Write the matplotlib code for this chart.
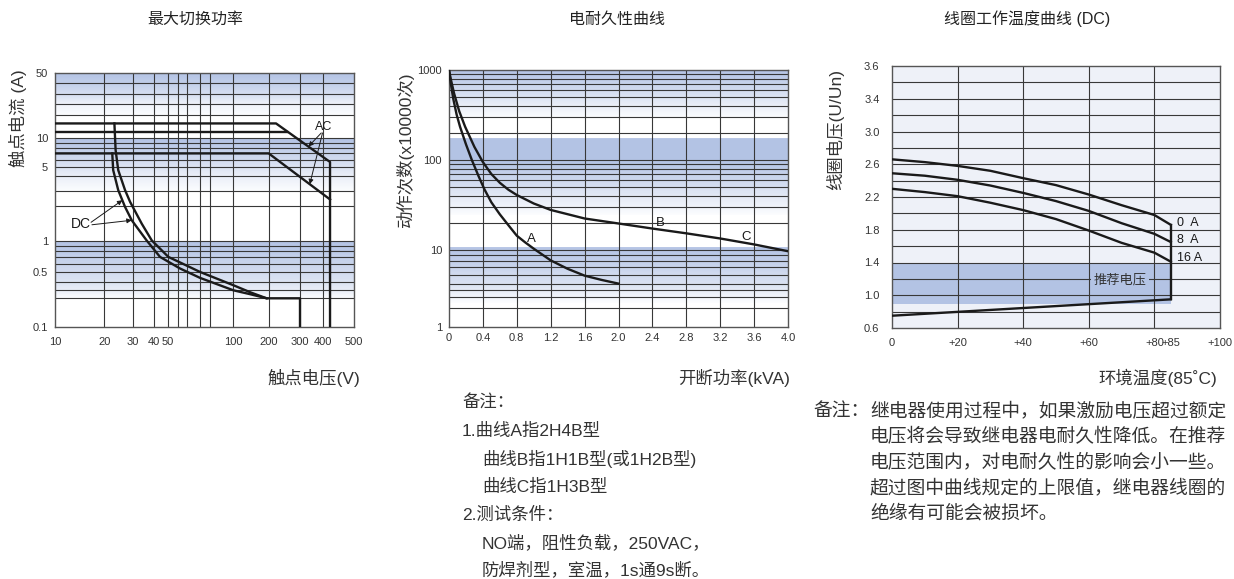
import numpy as np
import matplotlib
matplotlib.use('Agg')
import matplotlib.pyplot as plt
from matplotlib.colors import to_rgb

plt.rcParams['font.family'] = ['Liberation Sans', 'Noto Sans CJK SC', 'DejaVu Sans']

W, H = 1234, 579

# ---------------- data: 最大切换功率 ----------------
sw_xticks = [10, 20, 30, 40, 50, 100, 200, 300, 400, 500]
sw_xgrid = [20, 30, 40, 50, 60, 70, 80, 90, 100, 200, 300, 400]
sw_yticks = [0.1, 0.5, 1, 5, 10, 50]
sw_ygrid = [0.2, 0.3, 0.4, 0.5, 0.6, 0.7, 0.8, 0.9, 1, 2, 3, 4, 5, 6, 7, 8, 9, 10, 17, 20, 30, 40]
# the drawn axes are not a true log scale: anchor values and their axis fraction
sw_x_anchor = [10, 20, 30, 40, 50, 60, 70, 80, 90, 100, 200, 300, 400, 500]
sw_x_frac = [0, 0.165, 0.2598, 0.3311, 0.3768, 0.4103, 0.4426, 0.485, 0.5184, 0.5964, 0.7146, 0.8194, 0.8974, 1]
sw_y_anchor = [0.1, 0.2, 0.3, 0.4, 0.5, 1, 2, 3, 4, 5, 10, 15, 20, 30, 40, 50]
sw_y_frac = [0, 0.1129, 0.1444, 0.1759, 0.2165, 0.3386, 0.4751, 0.5341, 0.5932, 0.6273,
             0.7415, 0.8005, 0.8753, 0.9147, 0.958, 1]

ac_hi_v = [10, 220, 420, 420]
ac_hi_a = [15, 15, 5.7, 0.1]
ac_mid_v = [10, 255]
ac_mid_a = [12, 12]
ac_lo_v = [10, 200, 420]
ac_lo_a = [7, 7, 2.4]
dc_out_v = [23.1, 23.5, 24.4, 26.9, 28.9, 33.9, 38.8, 50.6, 80, 100, 140, 192, 300, 300]
dc_out_a = [15, 7.57, 4.67, 3.06, 2.25, 1.41, 1.01, 0.70, 0.50, 0.36, 0.27, 0.2, 0.2, 0.1]
dc_in_v = [22.4, 22.7, 24.4, 26.9, 29.6, 36.2, 44.1, 62.3, 80, 100, 140, 192]
dc_in_a = [7.0, 4.67, 3.06, 1.97, 1.51, 1.01, 0.70, 0.54, 0.44, 0.30, 0.245, 0.2]
sw_bands = [(50, 17), (10, 3), (1, 0.2)]

# ---------------- data: 电耐久性曲线 ----------------
en_xticks = [0, 0.4, 0.8, 1.2, 1.6, 2.0, 2.4, 2.8, 3.2, 3.6, 4.0]
en_xlabels = ['0', '0.4', '0.8', '1.2', '1.6', '2.0', '2.4', '2.8', '3.2', '3.6', '4.0']
en_yticks = [1, 10, 100, 1000]
en_ygrid = [2, 3, 4, 5, 6, 7, 8, 9, 10, 20, 30, 40, 50, 60, 70, 80, 90, 100,
            200, 300, 400, 500, 600, 700, 800, 900]
en_y_anchor = [1, 5, 10, 100, 1000]
en_y_frac = [0, 0.1688, 0.2987, 0.6494, 1]
a_kva = [0, 0.02, 0.05, 0.09, 0.13, 0.2, 0.27, 0.35, 0.42, 0.5, 0.6, 0.7, 0.8, 0.9, 1.0,
         1.2, 1.4, 1.6, 1.8, 2.0]
a_ops = [1000, 720, 480, 320, 235, 150, 100, 66, 47, 34, 25, 19, 14.5, 12.2, 10.4,
         8.1, 6.8, 5.9, 5.4, 5.0]
b_kva = [0, 0.02, 0.06, 0.12, 0.19, 0.3, 0.4, 0.5, 0.6, 0.7, 0.8, 1.0, 1.2, 1.6, 2.0,
         2.4, 2.8, 3.2, 3.6, 4.0]
b_ops = [1000, 800, 550, 350, 235, 140, 95, 70, 56, 47, 41, 33, 28, 22.5, 19.8,
         17.4, 15.4, 13.5, 11.6, 9.8]
en_labels = ['A', 'B', 'C']
en_label_x = [0.975, 2.49, 3.51]
en_label_y = [13.2, 20.1, 14.1]
en_grad_bands = [(1000, 300), (100, 25), (11, 2.5)]
en_solid_bands = [(175, 100)]

# ---------------- data: 线圈工作温度曲线 ----------------
ct_temp = [0, 10, 20, 30, 40, 50, 60, 70, 80, 85]
ct_0a = [2.66, 2.626, 2.58, 2.52, 2.43, 2.345, 2.23, 2.10, 1.98, 1.86]
ct_8a = [2.49, 2.46, 2.41, 2.34, 2.25, 2.15, 2.03, 1.88, 1.75, 1.65]
ct_16a = [2.30, 2.26, 2.21, 2.13, 2.04, 1.93, 1.79, 1.64, 1.52, 1.41]
ct_min_t = [0, 85]
ct_min_u = [0.75, 0.95]
ct_names = ['0  A', '8  A', '16 A']
ct_name_y = [1.886, 1.67, 1.46]
ct_rec = (0.89, 1.4)
ct_xticks = [0, 20, 40, 60, 80, 85, 100]
ct_xlabels = ['0', '+20', '+40', '+60', '+80', '+85', '+100']
ct_yticks = [0.6, 1.0, 1.4, 1.8, 2.2, 2.6, 3.0, 3.4, 3.8]
ct_ylabels = ['0.6', '1.0', '1.4', '1.8', '2.2', '2.6', '3.0', '3.4', '3.6']

note_left = [('备注：', 0), ('1.曲线A指2H4B型', 0), ('曲线B指1H1B型(或1H2B型)', 1),
             ('曲线C指1H3B型', 1), ('2.测试条件：', 0), ('NO端，阻性负载，250VAC，', 1),
             ('防焊剂型，室温，1s通9s断。', 1)]
note_right = ['继电器使用过程中，如果激励电压超过额定',
              '电压将会导致继电器电耐久性降低。在推荐',
              '电压范围内，对电耐久性的影响会小一些。',
              '超过图中曲线规定的上限值，继电器线圈的',
              '绝缘有可能会被损坏。']

BLUE = '#b3c3e4'
GRID = '#383838'
TXT = '#333333'


def piecewise_log(values, fracs):
    lv = np.log10(np.asarray(values, float))
    fr = np.asarray(fracs, float)

    def extrap(x, xp, fp):
        y = np.interp(x, xp, fp)
        y = np.where(x < xp[0], fp[0] + (x - xp[0]) * (fp[1] - fp[0]) / (xp[1] - xp[0]), y)
        y = np.where(x > xp[-1], fp[-1] + (x - xp[-1]) * (fp[-1] - fp[-2]) / (xp[-1] - xp[-2]), y)
        return y

    def fwd(v):
        v = np.asarray(v, float)
        with np.errstate(divide='ignore', invalid='ignore'):
            lg = np.log10(np.where(v > 0, v, 1e-300))
        return extrap(lg, lv, fr)

    def inv(f):
        return 10 ** extrap(np.asarray(f, float), fr, lv)

    return fwd, inv


def gradient_band(ax, top, bottom, c0=BLUE, c1='#fbfcfe', n=40):
    ys = np.geomspace(top, bottom, n + 1)
    c0, c1 = np.array(to_rgb(c0)), np.array(to_rgb(c1))
    for i in range(n):
        col = c0 + (c1 - c0) * (i / (n - 1))
        ax.axhspan(ys[i + 1], ys[i], color=col, lw=0.6, zorder=0.2)


def style(ax, xgrid, ygrid):
    for s in ax.spines.values():
        s.set_color('#555555')
        s.set_linewidth(1.0)
    ax.tick_params(which='both', length=0, labelsize=8, labelcolor=TXT)
    for v in xgrid:
        ax.axvline(v, color=GRID, lw=0.8, zorder=0.5)
    for v in ygrid:
        ax.axhline(v, color=GRID, lw=0.8, zorder=0.5)


def ftext(x, y, s, **kw):
    fig.text(x / W, 1 - y / H, s, **kw)


fig = plt.figure(figsize=(W / 100, H / 100), dpi=100)

# ---------------- chart 1 ----------------
ax1 = fig.add_axes([55 / W, 1 - 327 / H, 299 / W, 254.3 / H])
ax1.set_xscale('function', functions=piecewise_log(sw_x_anchor, sw_x_frac))
ax1.set_yscale('function', functions=piecewise_log(sw_y_anchor, sw_y_frac))
ax1.set_xlim(10, 500)
ax1.set_ylim(0.1, 50)
for top, bot in sw_bands:
    gradient_band(ax1, top, bot)
style(ax1, sw_xgrid, sw_ygrid)
ax1.set_xticks(sw_xticks, [str(v) for v in sw_xticks])
ax1.set_yticks(sw_yticks, ['0.1', '0.5', '1', '5', '10', '50'])
ax1.minorticks_off()
ax1.tick_params(axis='x', pad=7)
ax1.tick_params(axis='y', pad=5)
lw = 1.7
ax1.plot(ac_hi_v, ac_hi_a, color='#1a1a1a', lw=lw, zorder=3)
ax1.plot(ac_mid_v, ac_mid_a, color='#1a1a1a', lw=lw, zorder=3)
ax1.plot(ac_lo_v, ac_lo_a, color='#1a1a1a', lw=lw, zorder=3)
ax1.plot(dc_out_v, dc_out_a, color='#1a1a1a', lw=lw, zorder=3)
ax1.plot(dc_in_v, dc_in_a, color='#1a1a1a', lw=lw, zorder=3)


def along(ax, p0, p1, t):
    d0 = ax.transData.transform(p0)
    d1 = ax.transData.transform(p1)
    return ax.transData.inverted().transform(d0 + (d1 - d0) * t)


arrow = dict(arrowstyle='-|>', color='#1a1a1a', lw=0.7, mutation_scale=7, shrinkA=0, shrinkB=0)
ax1.text(400, 13.6, 'AC', fontsize=9, ha='center', va='center', color='#1a1a1a', zorder=4)
ax1.annotate('', xy=along(ax1, (ac_hi_v[1], ac_hi_a[1]), (ac_hi_v[2], ac_hi_a[2]), 0.6),
             xytext=(390, 11.6), arrowprops=arrow, zorder=4)
ax1.annotate('', xy=along(ax1, (ac_lo_v[1], ac_lo_a[1]), (ac_lo_v[2], ac_lo_a[2]), 0.67),
             xytext=(396, 11.6), arrowprops=arrow, zorder=4)
ax1.text(14.4, 1.4, 'DC', fontsize=10, ha='center', va='center', color='#1a1a1a', zorder=4)
ax1.annotate('', xy=along(ax1, (dc_in_v[2], dc_in_a[2]), (dc_in_v[3], dc_in_a[3]), 0.6),
             xytext=(16.6, 1.45), arrowprops=arrow, zorder=4)
ax1.annotate('', xy=(dc_in_v[4], dc_in_a[4]), xytext=(16.8, 1.38), arrowprops=arrow, zorder=4)

# ---------------- chart 2 ----------------
ax2 = fig.add_axes([449 / W, 1 - 327 / H, 339 / W, 257 / H])
ax2.set_yscale('function', functions=piecewise_log(en_y_anchor, en_y_frac))
ax2.set_xlim(0, 4.0)
ax2.set_ylim(1, 1000)
for top, bot in en_grad_bands:
    gradient_band(ax2, top, bot)
for top, bot in en_solid_bands:
    ax2.axhspan(bot, top, color=BLUE, lw=0.6, zorder=0.2)
style(ax2, en_xticks[1:-1], en_ygrid)
ax2.set_xticks(en_xticks, en_xlabels)
ax2.set_yticks(en_yticks, ['1', '10', '100', '1000'])
ax2.minorticks_off()
ax2.tick_params(axis='x', pad=4)
ax2.tick_params(axis='y', pad=5)
ax2.plot(a_kva, a_ops, color='#1a1a1a', lw=lw, zorder=3)
ax2.plot(b_kva, b_ops, color='#1a1a1a', lw=lw, zorder=3)
for s, x, y in zip(en_labels, en_label_x, en_label_y):
    ax2.text(x, y, s, fontsize=9.5, ha='center', va='center', color='#1a1a1a', zorder=4)

# ---------------- chart 3 ----------------
ax3 = fig.add_axes([892 / W, 1 - 328 / H, 328 / W, 262 / H])
ax3.set_facecolor('#eef1f8')
ax3.set_xlim(0, 100)
ax3.set_ylim(0.6, 3.8)
ax3.fill_between([ct_temp[0], ct_temp[-1]], ct_rec[0], ct_rec[1], color=BLUE, lw=0, zorder=0.3)
style(ax3, [20, 40, 60, 80], np.arange(0.8, 3.7, 0.2))
ax3.set_xticks(ct_xticks, ct_xlabels)
ax3.set_yticks(ct_yticks, ct_ylabels)
ax3.tick_params(axis='x', pad=7)
ax3.tick_params(axis='y', pad=9)
for curve in (ct_0a, ct_8a, ct_16a):
    ax3.plot(ct_temp, curve, color='#1a1a1a', lw=lw, zorder=3)
ax3.plot(ct_min_t, ct_min_u, color='#1a1a1a', lw=lw, zorder=3)
ax3.plot([ct_temp[-1], ct_temp[-1]], [ct_min_u[-1], ct_0a[-1]], color='#1a1a1a', lw=lw, zorder=3)
for s, y in zip(ct_names, ct_name_y):
    ax3.text(86.8, y, s, fontsize=9, ha='left', va='center', color='#1a1a1a', zorder=4)
ax3.text(69.5, 1.18, '推荐电压', fontsize=9.5, ha='center', va='center', color=TXT, zorder=4,
         bbox=dict(fc=BLUE, ec='none', pad=1.5))

# ---------------- titles and labels ----------------
tkw = dict(fontsize=11.5, color='#222222', ha='center', va='center')
ftext(195, 19, '最大切换功率', **tkw)
ftext(617, 19, '电耐久性曲线', **tkw)
ftext(1027, 19, '线圈工作温度曲线 (DC)', **tkw)

lkw = dict(fontsize=12.5, color=TXT, va='center')
ftext(18, 118, '触点电流 (A)', rotation=90, ha='center', **lkw)
ftext(405, 150, '动作次数(x10000次)', rotation=90, ha='center', **lkw)
ftext(835, 129, '线圈电压(U/Un)', rotation=90, ha='center', **lkw)
ftext(360, 378, '触点电压(V)', ha='right', **lkw)
ftext(790, 378, '开断功率(kVA)', ha='right', **lkw)
ftext(1217, 378, '环境温度(85˚C)', ha='right', **lkw)

# ---------------- notes ----------------
for i, (s, indent) in enumerate(note_left):
    ftext(462 + 20 * indent, 403 + 28 * i, s, fontsize=12.5, color=TXT, ha='left', va='center')
ftext(813, 412, '备注：', fontsize=13.5, color=TXT, ha='left', va='center')
for i, s in enumerate(note_right):
    ftext(870, 412 + 25.5 * i, s, fontsize=13.5, color=TXT, ha='left', va='center')

fig.savefig('out.png', dpi=100, facecolor='white')
